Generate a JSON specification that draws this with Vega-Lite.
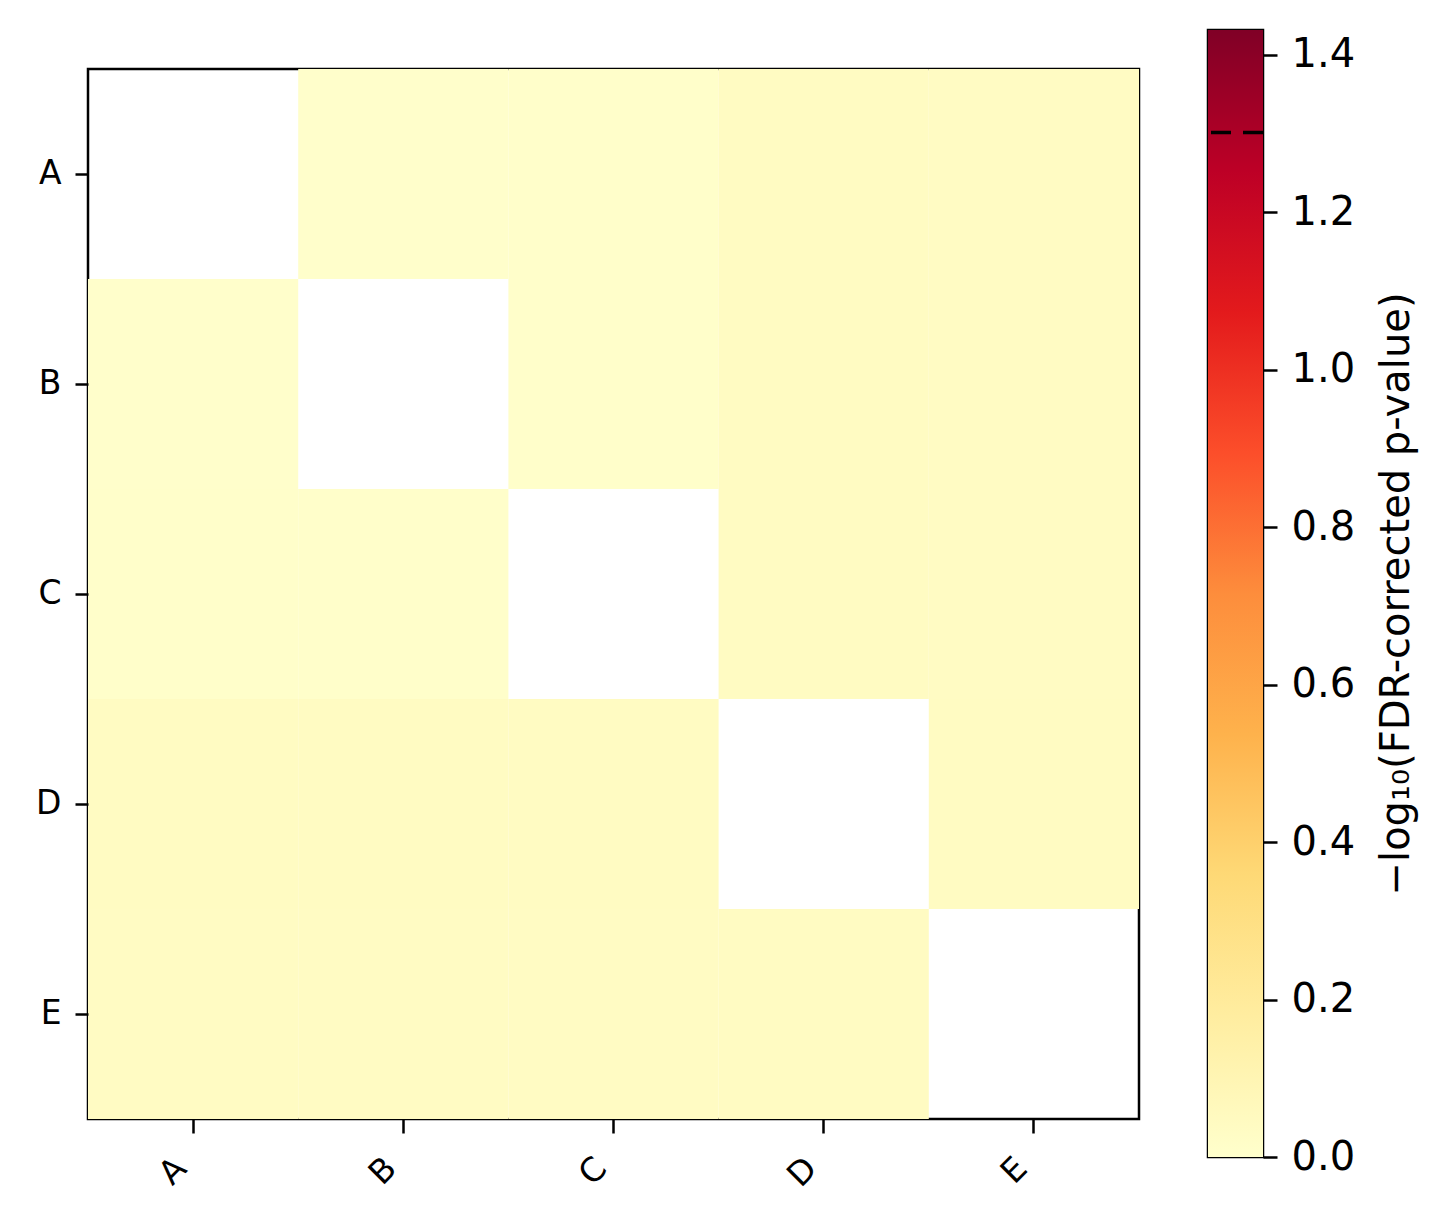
{
  "$schema": "https://vega.github.io/schema/vega-lite/v6.json",
  "background": "white",
  "padding": {"left": 34, "top": 24, "right": 10, "bottom": 10},
  "config": {
    "font": "DejaVu Sans",
    "view": {"stroke": "black", "strokeWidth": 2.5},
    "axis": {"labelColor": "black", "tickColor": "black", "titleColor": "black", "grid": false, "domain": false, "tickWidth": 2.5}
  },
  "spacing": 64,
  "hconcat": [
    {
      "spacing": 31,
      "vconcat": [
        {
          "width": 1051,
          "height": 1,
          "view": {"stroke": null},
          "data": {"values": [{"label": ""}]},
          "mark": {"type": "text", "opacity": 0},
          "encoding": {"text": {"field": "label"}}
        },
        {
          "width": 1051,
          "height": 1050,
          "data": {"values": [
            {"row": "A", "col": "B", "value": 0.005},
            {"row": "A", "col": "C", "value": 0.01},
            {"row": "A", "col": "D", "value": 0.04},
            {"row": "A", "col": "E", "value": 0.035},
            {"row": "B", "col": "A", "value": 0.005},
            {"row": "B", "col": "C", "value": 0.01},
            {"row": "B", "col": "D", "value": 0.04},
            {"row": "B", "col": "E", "value": 0.035},
            {"row": "C", "col": "A", "value": 0.01},
            {"row": "C", "col": "B", "value": 0.01},
            {"row": "C", "col": "D", "value": 0.04},
            {"row": "C", "col": "E", "value": 0.035},
            {"row": "D", "col": "A", "value": 0.04},
            {"row": "D", "col": "B", "value": 0.04},
            {"row": "D", "col": "C", "value": 0.04},
            {"row": "D", "col": "E", "value": 0.04},
            {"row": "E", "col": "A", "value": 0.035},
            {"row": "E", "col": "B", "value": 0.035},
            {"row": "E", "col": "C", "value": 0.035},
            {"row": "E", "col": "D", "value": 0.04}
          ]},
          "mark": {"type": "rect"},
          "encoding": {
            "x": {"field": "col", "type": "nominal", "scale": {"domain": ["A", "B", "C", "D", "E"], "paddingInner": 0, "paddingOuter": 0},
                  "axis": {"title": null, "labelAngle": -45, "labelAlign": "right", "labelBaseline": "middle", "labelFontSize": 33, "tickSize": 14, "labelPadding": 30, "labelOffset": -12}},
            "y": {"field": "row", "type": "nominal", "scale": {"domain": ["A", "B", "C", "D", "E"], "paddingInner": 0, "paddingOuter": 0},
                  "axis": {"title": null, "labelFontSize": 33, "tickSize": 13, "labelPadding": 14}},
            "color": {"field": "value", "type": "quantitative", "legend": null,
                      "scale": {"domain": [0, 0.17891, 0.35783, 0.53674, 0.71565, 0.89456, 1.07348, 1.25239, 1.4313],
                                "range": ["#ffffcc", "#ffeda0", "#fed976", "#feb24c", "#fd8d3c", "#fc4e2a", "#e31a1c", "#bd0026", "#800026"],
                                "interpolate": "rgb"}}
          }
        }
      ]
    },
    {
      "width": 55,
      "height": 1127,
      "layer": [
        {
          "data": {"values": [{"lo": 0, "hi": 1.4313}]},
          "mark": {"type": "rect", "fill": {"gradient": "linear", "x1": 0, "y1": 1, "x2": 0, "y2": 0,
            "stops": [
              {"offset": 0, "color": "#ffffcc"},
              {"offset": 0.125, "color": "#ffeda0"},
              {"offset": 0.25, "color": "#fed976"},
              {"offset": 0.375, "color": "#feb24c"},
              {"offset": 0.5, "color": "#fd8d3c"},
              {"offset": 0.625, "color": "#fc4e2a"},
              {"offset": 0.75, "color": "#e31a1c"},
              {"offset": 0.875, "color": "#bd0026"},
              {"offset": 1, "color": "#800026"}
            ]}},
          "encoding": {
            "y": {"field": "lo", "type": "quantitative", "scale": {"domain": [0, 1.4313], "nice": false, "zero": false},
                  "axis": {"orient": "right", "values": [0, 0.2, 0.4, 0.6, 0.8, 1.0, 1.2, 1.4], "format": ".1f",
                           "labelFontSize": 40, "tickSize": 14, "labelPadding": 14,
                           "title": "−log₁₀(FDR-corrected p-value)", "titleFontSize": 40, "titleFontWeight": "normal",
                           "titleAngle": -90, "titleBaseline": "top", "titlePadding": 22}},
            "y2": {"field": "hi"}
          }
        },
        {
          "data": {"values": [{"threshold": 1.301}]},
          "mark": {"type": "rule", "color": "black", "strokeWidth": 3.5, "strokeDash": [20, 12]},
          "encoding": {"y": {"field": "threshold", "type": "quantitative"}}
        }
      ]
    }
  ]
}
